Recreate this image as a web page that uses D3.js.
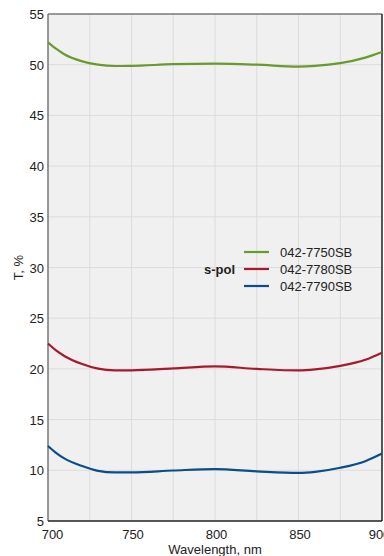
<!DOCTYPE html>
<html>
<head>
<meta charset="utf-8">
<script src="https://cdn.jsdelivr.net/npm/d3@7"></script>
<style>
  body { margin: 0; background: #fff; }
  svg text { font-family: "Liberation Sans", Arial, sans-serif; fill: #222; }
</style>
</head>
<body>
<svg id="chart" width="384" height="556"></svg>
<script>
//
// Data
//
var wavelengths = [700, 705, 710, 720, 730, 740, 750, 775, 800, 825, 850, 860, 875, 890, 900]
var t7750 = [52.2, 51.55, 51.0, 50.35, 50.0, 49.87, 49.88, 50.05, 50.1, 50.0, 49.82, 49.88, 50.15, 50.7, 51.25]
var t7780 = [22.5, 21.8, 21.25, 20.5, 20.02, 19.86, 19.86, 20.05, 20.25, 20.0, 19.85, 19.95, 20.3, 20.9, 21.6]
var t7790 = [12.4, 11.7, 11.15, 10.45, 9.95, 9.8, 9.8, 9.98, 10.12, 9.9, 9.75, 9.85, 10.25, 10.9, 11.65]
var seriesNames = ['042-7750SB', '042-7780SB', '042-7790SB']
var seriesColors = ['#6a9a2d', '#a8192f', '#0b4d8a']
var xTicks = [700, 750, 800, 850, 900]
var xGrid = [725, 750, 775, 800, 825, 850, 875]
var yTicks = [5, 10, 15, 20, 25, 30, 35, 40, 45, 50, 55]

//
// Layout
//
var pLeft = 48, pRight = 382, pTop = 14, pBottom = 521
var svg = d3.select('#chart')
var x = d3.scaleLinear().domain([700, 900]).range([pLeft, pRight])
var y = d3.scaleLinear().domain([5, 55]).range([pBottom, pTop])

svg.append('rect')
  .attr('x', pLeft).attr('y', pTop)
  .attr('width', pRight - pLeft).attr('height', pBottom - pTop)
  .attr('fill', '#f0f0f0')

// grid
svg.append('g').selectAll('line').data(xGrid).join('line')
  .attr('x1', d => x(d)).attr('x2', d => x(d))
  .attr('y1', pTop).attr('y2', pBottom)
  .attr('stroke', '#dcdcdc').attr('stroke-width', 1)
svg.append('g').selectAll('line').data(yTicks.slice(1, -1)).join('line')
  .attr('x1', pLeft).attr('x2', pRight)
  .attr('y1', d => y(d)).attr('y2', d => y(d))
  .attr('stroke', '#dcdcdc').attr('stroke-width', 1)

// axes
var yAxis = svg.append('g')
  .attr('transform', 'translate(' + pLeft + ',0)')
  .call(d3.axisLeft(y).tickValues(yTicks).tickSize(0).tickPadding(4))
yAxis.select('.domain').remove()
yAxis.selectAll('text').attr('font-size', 13).attr('dy', '0.35em')

var xAxis = svg.append('g')
  .attr('transform', 'translate(0,' + pBottom + ')')
  .call(d3.axisBottom(x).tickValues(xTicks).tickSize(0).tickPadding(9))
xAxis.select('.domain').remove()
xAxis.selectAll('text').attr('font-size', 13)
  .attr('dx', d => d === 700 ? 4 : d === 900 ? -3 : 1)

// frame
svg.append('line').attr('x1', pLeft).attr('x2', pRight).attr('y1', pTop).attr('y2', pTop)
  .attr('stroke', '#777').attr('stroke-width', 1.5)
svg.append('line').attr('x1', pLeft).attr('x2', pLeft).attr('y1', pTop).attr('y2', pBottom)
  .attr('stroke', '#777').attr('stroke-width', 1.5)
svg.append('line').attr('x1', pRight).attr('x2', pRight).attr('y1', pTop).attr('y2', pBottom)
  .attr('stroke', '#222').attr('stroke-width', 1.5)
svg.append('line').attr('x1', pLeft).attr('x2', pRight).attr('y1', pBottom).attr('y2', pBottom)
  .attr('stroke', '#222').attr('stroke-width', 1.5)

// curves
var line = d3.line()
  .x((d, i) => x(wavelengths[i]))
  .y(d => y(d))
  .curve(d3.curveMonotoneX)

var allSeries = [t7750, t7780, t7790]
svg.append('g').selectAll('path').data(allSeries).join('path')
  .attr('d', d => line(d))
  .attr('fill', 'none')
  .attr('stroke', (d, i) => seriesColors[i])
  .attr('stroke-width', 2.2)

// axis titles
svg.append('text')
  .attr('x', (pLeft + pRight) / 2).attr('y', 554)
  .attr('text-anchor', 'middle').attr('font-size', 13)
  .text('Wavelength, nm')
svg.append('text')
  .attr('transform', 'translate(23,' + (pTop + pBottom) / 2 + ') rotate(-90)')
  .attr('text-anchor', 'middle').attr('font-size', 13)
  .text('T, %')

// legend
var legend = svg.append('g')
legend.append('text')
  .attr('x', 235).attr('y', 269).attr('dy', '0.35em')
  .attr('text-anchor', 'end').attr('font-size', 13).attr('font-weight', 'bold')
  .text('s-pol')
var items = legend.selectAll('g').data(seriesNames).join('g')
  .attr('transform', (d, i) => 'translate(0,' + (252 + i * 17) + ')')
items.append('line')
  .attr('x1', 244).attr('x2', 269)
  .attr('stroke', (d, i) => seriesColors[i]).attr('stroke-width', 2.2)
items.append('text')
  .attr('x', 280).attr('dy', '0.35em').attr('font-size', 13)
  .text(d => d)
</script>
</body>
</html>
